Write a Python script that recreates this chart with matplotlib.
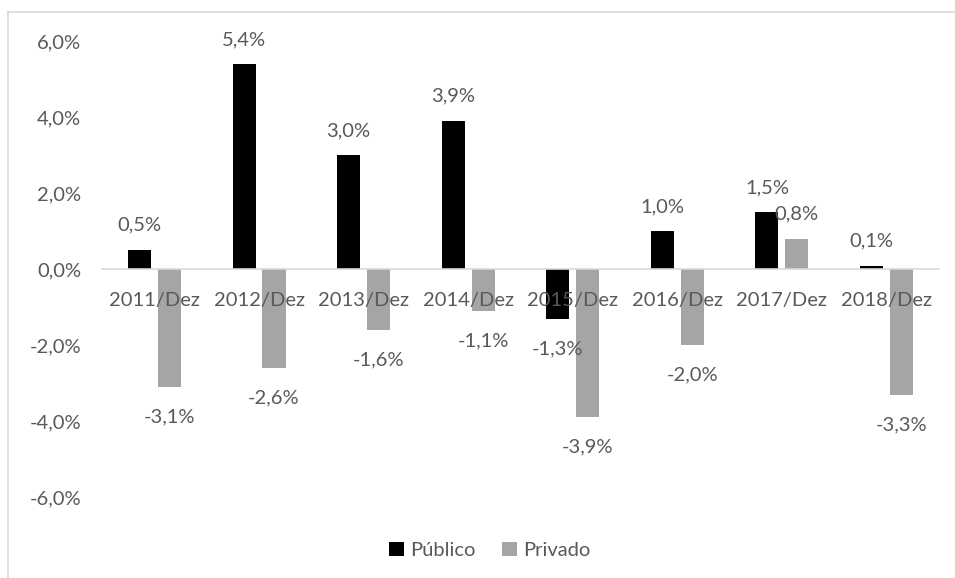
import matplotlib
matplotlib.use("Agg")
import matplotlib.pyplot as plt
import numpy as np
from matplotlib.lines import Line2D

categories = ['2011/Dez', '2012/Dez', '2013/Dez', '2014/Dez',
              '2015/Dez', '2016/Dez', '2017/Dez', '2018/Dez']
publico = [0.5, 5.4, 3.0, 3.9, -1.3, 1.0, 1.5, 0.1]
privado = [-3.1, -2.6, -1.6, -1.1, -3.9, -2.0, 0.8, -3.3]
yticks = [-6, -4, -2, 0, 2, 4, 6]

plt.rcParams['font.family'] = ['Lato', 'DejaVu Sans']
txt_color = '#595959'
fsize = 14.5

fig = plt.figure(figsize=(9.55, 5.78), dpi=100)
ax = fig.add_axes([0.107, 0.140, 0.876, 0.788])

x = np.arange(len(categories))
w = 0.22
off = 0.143
b1 = ax.bar(x - off, publico, w, color='#000000', label='Público', zorder=2)
b2 = ax.bar(x + off, privado, w, color='#A5A5A5', label='Privado', zorder=2)


def fmt(v):
    return f'{v:.1f}%'.replace('.', ',')


# data labels outside the bar ends
for bars, vals in ((b1, publico), (b2, privado)):
    for rect, v in zip(bars, vals):
        cx = rect.get_x() + rect.get_width() / 2
        dy = 25 if v >= 0 else -30
        ax.annotate(fmt(v), (cx, v), xytext=(0, dy), textcoords='offset pixels',
                    ha='center', va='center', fontsize=fsize, color=txt_color,
                    zorder=5)

ax.set_xlim(-0.5, len(categories) - 0.5)
ax.set_ylim(-6, 6)

# category labels sit just under the zero line
ax.spines['bottom'].set_position(('data', 0))
ax.spines['bottom'].set_color('#D9D9D9')
ax.spines['bottom'].set_linewidth(1.2)
for s in ('top', 'right', 'left'):
    ax.spines[s].set_visible(False)

ax.set_yticks(yticks)
ax.set_yticklabels([fmt(v) for v in yticks])
ax.set_xticks(x)
ax.set_xticklabels(categories)
ax.tick_params(axis='both', length=0, labelsize=fsize, labelcolor=txt_color)
ax.tick_params(axis='y', pad=15)
ax.tick_params(axis='x', pad=16)
ax.set_axisbelow(False)

leg = fig.legend(handles=[b1, b2], loc='center', bbox_to_anchor=(0.513, 0.048),
                 ncol=2, frameon=False, fontsize=fsize, handlelength=0.75,
                 handleheight=0.75, handletextpad=0.3, columnspacing=1.3)
for t in leg.get_texts():
    t.set_color(txt_color)

# chart border (top and left edges)
fig.add_artist(Line2D([8 / 955, 8 / 955], [0, 1 - 12 / 578], color='#D9D9D9',
                      lw=1.2, transform=fig.transFigure))
fig.add_artist(Line2D([8 / 955, 1], [1 - 12 / 578, 1 - 12 / 578], color='#D9D9D9',
                      lw=1.2, transform=fig.transFigure))

fig.savefig('out.png', dpi=100)
